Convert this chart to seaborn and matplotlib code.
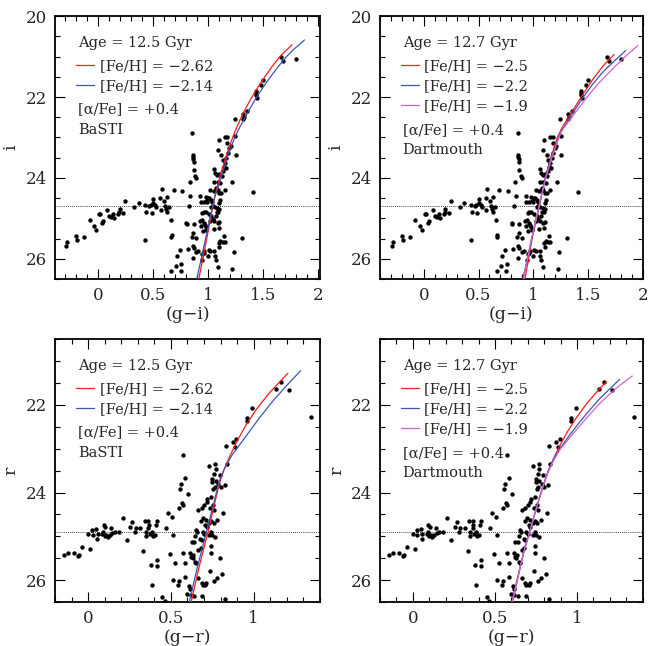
import matplotlib
matplotlib.use("Agg")
import matplotlib.pyplot as plt
import matplotlib.ticker as mticker
import seaborn as sns
import pandas as pd

# observed CMD points, (g-i, i)
gi_hb = [(-0.291, 25.69), (-0.279, 25.58), (-0.197, 25.44), (-0.191, 25.54), (-0.124, 25.47),
         (-0.076, 25.04), (-0.036, 25.19), (-0.015, 25.29), (0.009, 24.90), (0.018, 24.88),
         (0.039, 25.11), (0.051, 25.06), (0.082, 24.79), (0.100, 24.95), (0.121, 24.96),
         (0.136, 24.90), (0.145, 25.00), (0.182, 24.90), (0.191, 24.84), (0.197, 24.77),
         (0.227, 24.87), (0.251, 24.57), (0.333, 24.72), (0.370, 24.61), (0.430, 25.54),
         (0.433, 24.67), (0.442, 24.83), (0.464, 24.69), (0.479, 24.67), (0.488, 24.87),
         (0.503, 24.62), (0.506, 24.52), (0.521, 24.67), (0.530, 24.72), (0.570, 24.80),
         (0.564, 24.49), (0.579, 24.27), (0.612, 24.69), (0.606, 24.56), (0.630, 24.46),
         (0.633, 24.83), (0.624, 24.77), (0.648, 24.72), (0.664, 25.05), (0.673, 25.40),
         (0.667, 25.45), (0.688, 24.30), (0.718, 25.92), (0.667, 26.30), (0.709, 26.17),
         (0.752, 26.30), (0.745, 25.78)]
gi_lower = [(0.767, 24.32), (0.834, 24.11), (0.840, 24.455), (0.825, 24.69), (0.806, 25.12),
            (0.809, 25.15), (0.867, 25.36), (0.855, 25.46), (0.897, 25.48), (0.873, 25.14),
            (0.818, 25.75), (0.864, 25.69), (0.870, 25.73), (0.864, 25.98), (0.894, 25.84),
            (0.912, 25.81), (0.758, 26.12), (0.931, 24.455), (0.937, 24.59), (0.964, 24.59),
            (0.979, 24.47), (0.985, 24.57), (0.997, 24.59), (1.006, 24.50), (0.949, 24.87),
            (0.961, 24.84), (0.979, 24.83), (0.925, 25.07), (0.946, 25.03), (0.934, 25.20),
            (0.964, 25.11), (0.970, 25.17), (0.979, 25.21), (0.985, 25.28), (0.955, 25.32),
            (0.949, 25.87), (0.964, 25.85), (0.943, 26.02), (0.967, 25.81), (1.009, 25.79),
            (1.000, 25.93), (1.061, 25.93), (1.070, 26.02), (1.024, 25.81), (1.058, 25.81),
            (1.091, 26.20), (1.106, 25.71), (1.100, 25.61), (1.115, 25.56), (1.137, 25.58),
            (1.155, 25.59), (1.146, 25.44), (1.237, 25.84), (1.224, 26.26), (1.312, 25.49),
            (1.021, 24.29), (1.015, 24.50), (1.030, 24.54), (1.040, 24.60), (1.030, 24.73),
            (1.046, 24.70), (1.064, 24.72), (1.085, 24.74), (1.106, 24.76), (1.106, 24.63),
            (1.112, 24.55), (1.082, 24.83), (1.097, 24.84), (1.009, 24.89), (1.030, 24.93),
            (1.070, 24.95), (1.046, 25.01), (1.058, 25.07), (1.091, 25.11), (1.106, 25.10),
            (1.021, 25.07), (1.052, 25.26), (1.100, 25.24), (1.058, 24.09), (1.076, 24.25),
            (1.091, 24.09), (1.112, 24.13), (1.091, 24.29), (1.106, 24.36), (1.124, 24.37),
            (1.070, 24.29), (1.055, 24.33), (1.152, 24.29), (1.221, 24.11), (1.409, 24.34)]
gi_upper = [(0.858, 22.88), (0.864, 23.44), (0.864, 23.49), (0.867, 23.54), (0.870, 23.61),
            (0.873, 23.80), (0.885, 23.96), (0.894, 23.99), (1.058, 23.78), (1.067, 23.88),
            (1.100, 23.06), (1.155, 22.98), (1.176, 22.98), (1.091, 23.30), (1.121, 23.43),
            (1.137, 23.55), (1.167, 23.51), (1.182, 23.39), (1.176, 23.14), (1.197, 23.26),
            (1.212, 23.22), (1.152, 23.63), (1.143, 23.72), (1.161, 23.76), (1.137, 23.84),
            (1.130, 23.96), (1.106, 23.90), (1.085, 23.93), (1.249, 22.97), (1.258, 23.44),
            (1.246, 22.55), (1.318, 22.43), (1.325, 22.50), (1.318, 22.55), (1.358, 22.34),
            (1.440, 21.85), (1.440, 21.95), (1.446, 22.03), (1.434, 21.91), (1.485, 21.70),
            (1.500, 21.58), (1.670, 21.00), (1.688, 21.11), (1.803, 21.07)]

# observed CMD points, (g-r, r)
gr_hb = [(-0.147, 25.42), (-0.122, 25.38), (-0.086, 25.39), (-0.062, 25.45), (-0.056, 25.42),
         (-0.036, 25.25), (0.010, 25.30), (-0.002, 24.94), (0.024, 24.85), (0.028, 24.97),
         (0.050, 24.83), (0.058, 24.95), (0.056, 25.07), (0.084, 24.95), (0.094, 24.74),
         (0.104, 24.78), (0.092, 24.91), (0.100, 25.00), (0.110, 24.97), (0.118, 25.02),
         (0.130, 24.97), (0.138, 24.81), (0.144, 24.93), (0.160, 24.91), (0.184, 24.89),
         (0.210, 24.59), (0.234, 25.09), (0.254, 24.78), (0.268, 24.68), (0.284, 24.89),
         (0.290, 24.80), (0.316, 24.80), (0.334, 25.34), (0.344, 24.66), (0.348, 24.89),
         (0.348, 25.00), (0.364, 24.65), (0.368, 24.74), (0.364, 24.81), (0.374, 24.94),
         (0.384, 24.89), (0.390, 25.00), (0.401, 24.97), (0.411, 24.74), (0.417, 24.65),
         (0.379, 25.66), (0.417, 25.53), (0.417, 25.68), (0.383, 26.11), (0.449, 26.38),
         (0.465, 26.47), (0.469, 24.80), (0.481, 24.47), (0.495, 25.40), (0.509, 24.55),
         (0.515, 24.97), (0.525, 25.61), (0.515, 26.00), (0.545, 26.11), (0.549, 24.36),
         (0.549, 26.01)]
gr_lower = [(0.555, 23.91), (0.561, 23.80), (0.585, 23.68), (0.565, 24.25), (0.571, 24.29),
            (0.601, 24.04), (0.575, 25.38), (0.585, 25.61), (0.665, 24.40), (0.651, 24.85),
            (0.659, 24.91), (0.645, 25.00), (0.625, 25.12), (0.639, 25.12), (0.675, 25.06),
            (0.685, 25.08), (0.679, 25.27), (0.665, 25.32), (0.615, 25.37), (0.621, 25.48),
            (0.631, 25.49), (0.645, 25.58), (0.651, 25.61), (0.635, 25.43), (0.585, 25.92),
            (0.611, 26.14), (0.615, 26.21), (0.599, 26.32), (0.619, 26.34), (0.641, 26.36),
            (0.665, 25.95), (0.691, 26.11), (0.685, 26.06), (0.705, 26.10), (0.711, 26.06),
            (0.689, 26.36), (0.735, 25.80), (0.761, 26.02), (0.781, 25.95), (0.811, 25.86),
            (0.799, 25.49), (0.745, 25.38), (0.741, 25.21), (0.769, 25.02), (0.751, 24.97),
            (0.731, 24.97), (0.745, 24.89), (0.681, 24.66), (0.695, 24.59), (0.711, 24.63),
            (0.705, 24.74), (0.715, 24.78), (0.731, 24.70), (0.745, 24.66), (0.759, 24.70),
            (0.691, 24.89), (0.701, 24.94), (0.685, 24.36), (0.699, 24.29), (0.715, 24.21),
            (0.735, 24.35), (0.761, 24.40), (0.755, 24.29), (0.781, 24.63), (0.815, 24.47),
            (0.719, 24.14), (0.741, 24.10), (0.749, 23.76), (0.755, 23.91), (0.765, 23.87),
            (0.801, 23.87), (0.825, 23.83), (0.785, 23.80), (0.771, 23.74), (0.751, 23.70),
            (0.761, 23.57), (0.795, 23.61), (0.771, 23.46), (0.829, 26.44)]
gr_upper = [(0.575, 23.14), (0.731, 23.40), (0.769, 23.34), (0.832, 22.93), (0.836, 23.36),
            (0.872, 22.84), (0.886, 22.95), (0.896, 22.78), (0.962, 22.29), (0.962, 22.36),
            (0.992, 22.06), (1.136, 21.63), (1.162, 21.48), (1.212, 21.65), (1.347, 22.27)]

# isochrones, BaSTI 12.5 Gyr, (g-i, i)
basti_gi_mag_r = [26.5, 25.5, 24.5, 24.0, 23.5, 23.0, 22.75, 22.5, 22.25, 22.0, 21.75, 21.5,
                  21.25, 21.0, 20.85, 20.71]
basti_gi_red = [0.918, 0.99, 1.06, 1.106, 1.161, 1.226, 1.263, 1.304, 1.350, 1.401, 1.457, 1.519,
                1.583, 1.655, 1.71, 1.767]
basti_gi_mag_b = [26.5, 25.5, 24.5, 24.0, 23.5, 23.0, 22.75, 22.5, 22.25, 22.0, 21.75, 21.5,
                  21.25, 21.0, 20.8, 20.59]
basti_gi_blue = [0.900, 0.98, 1.06, 1.12, 1.175, 1.245, 1.29, 1.34, 1.39, 1.445, 1.505, 1.57,
                 1.64, 1.715, 1.79, 1.879]

# Dartmouth 12.7 Gyr, (g-i, i)
dart_gi_mag_r = [26.5, 25.5, 24.5, 24.0, 23.5, 23.0, 22.77, 22.40, 21.99, 21.56, 21.23, 20.95]
dart_gi_red = [0.924, 0.99, 1.07, 1.11, 1.16, 1.22, 1.26, 1.345, 1.44, 1.545, 1.638, 1.738]
dart_gi_mag_b = [26.5, 25.5, 24.5, 24.0, 23.5, 23.0, 22.81, 22.42, 22.03, 21.66, 21.37, 21.13,
                 20.85]
dart_gi_blue = [0.905, 0.985, 1.07, 1.11, 1.165, 1.23, 1.265, 1.355, 1.45, 1.549, 1.64, 1.732,
                1.845]
dart_gi_mag_m = [26.5, 25.5, 24.5, 24.0, 23.5, 23.0, 22.83, 22.56, 22.23, 21.91, 21.62, 21.37,
                 21.04, 20.73]
dart_gi_mag_col = [0.91, 0.985, 1.07, 1.115, 1.17, 1.235, 1.262, 1.335, 1.427, 1.518, 1.61,
                   1.701, 1.823, 1.954]

# BaSTI, (g-r, r)
basti_gr_mag_r = [26.5, 25.7, 24.89, 24.15, 23.8, 23.5, 23.2, 22.85, 22.44, 22.10, 21.72, 21.28]
basti_gr_red = [0.622, 0.67, 0.725, 0.77, 0.792, 0.818, 0.852, 0.896, 0.956, 1.016, 1.096, 1.206]
basti_gr_mag_b = [26.5, 25.7, 24.89, 24.15, 23.8, 23.5, 23.15, 22.70, 22.29, 21.91, 21.57, 21.22]
basti_gr_blue = [0.611, 0.66, 0.715, 0.765, 0.787, 0.818, 0.868, 0.956, 1.036, 1.116, 1.196,
                 1.283]

# Dartmouth, (g-r, r)
dart_gr_mag_r = [26.5, 25.41, 24.35, 23.9, 23.5, 23.2, 22.93, 22.59, 22.29, 21.98, 21.72, 21.47]
dart_gr_red = [0.607, 0.672, 0.753, 0.79, 0.825, 0.86, 0.895, 0.945, 0.996, 1.057, 1.117, 1.178]
dart_gr_mag_b = [26.5, 25.41, 24.35, 23.9, 23.55, 23.25, 23.0, 22.74, 22.44, 22.14, 21.87,
                 21.65, 21.42]
dart_gr_blue = [0.602, 0.672, 0.753, 0.788, 0.82, 0.855, 0.895, 0.945, 1.006, 1.072, 1.135,
                1.195, 1.259]
dart_gr_mag_m = [26.5, 25.41, 24.35, 23.9, 23.55, 23.25, 23.0, 22.82, 22.55, 22.29, 22.02,
                 21.80, 21.57, 21.34]
dart_gr_mag_col = [0.605, 0.672, 0.753, 0.789, 0.822, 0.86, 0.9, 0.94, 1.0, 1.06, 1.125, 1.185,
                   1.255, 1.336]

RED, BLUE, MAG = "#ff1a1a", "#3a55b4", "#cc66cc"

gi_df = pd.DataFrame(gi_hb + gi_lower + gi_upper, columns=["col", "mag"])
gr_df = pd.DataFrame(gr_hb + gr_lower + gr_upper, columns=["col", "mag"])

sns.set_theme(style="ticks")
plt.rcParams["font.family"] = ["DejaVu Serif"]

fig = plt.figure(figsize=(6.6, 6.46), dpi=100)

panels = [
    # axes box, points, isochrones, xlim, ylim, x label, y label, age, model set, dotted level
    ([0.0833, 0.568, 0.4015, 0.407], gi_df,
     [(basti_gi_red, basti_gi_mag_r, RED, "\u22122.62"), (basti_gi_blue, basti_gi_mag_b, BLUE, "\u22122.14")],
     (-0.39, 2.02), (26.5, 20), "(g\u2212i)", "i", "12.5", "BaSTI", 24.7),
    ([0.5758, 0.568, 0.398, 0.407], gi_df,
     [(dart_gi_red, dart_gi_mag_r, RED, "\u22122.5"), (dart_gi_blue, dart_gi_mag_b, BLUE, "\u22122.2"),
      (dart_gi_mag_col, dart_gi_mag_m, MAG, "\u22121.9")],
     (-0.4, 2.0), (26.5, 20), "(g\u2212i)", "i", "12.7", "Dartmouth", 24.7),
    ([0.0833, 0.068, 0.4015, 0.407], gr_df,
     [(basti_gr_red, basti_gr_mag_r, RED, "\u22122.62"), (basti_gr_blue, basti_gr_mag_b, BLUE, "\u22122.14")],
     (-0.2, 1.4), (26.5, 20.5), "(g\u2212r)", "r", "12.5", "BaSTI", 24.9),
    ([0.5758, 0.068, 0.398, 0.407], gr_df,
     [(dart_gr_red, dart_gr_mag_r, RED, "\u22122.5"), (dart_gr_blue, dart_gr_mag_b, BLUE, "\u22122.2"),
      (dart_gr_mag_col, dart_gr_mag_m, MAG, "\u22121.9")],
     (-0.2, 1.4), (26.5, 20.5), "(g\u2212r)", "r", "12.7", "Dartmouth", 24.9),
]

for pos, df, curves, xlim, ylim, xlab, ylab, age, model, dot in panels:
    ax = fig.add_axes(pos)
    sns.scatterplot(data=df, x="col", y="mag", color="black", s=10, linewidth=0,
                    ax=ax, legend=False, zorder=3)
    for cx, cy, c, feh in curves:
        sns.lineplot(x=cx, y=cy, sort=False, estimator=None, color=c, lw=0.9,
                     ax=ax, label="[Fe/H] = " + feh, zorder=4)
    ax.axhline(dot, color="black", lw=0.6, ls=(0, (1, 1.5)), zorder=2)
    ax.set_xlim(*xlim)
    ax.set_ylim(*ylim)

    ax.xaxis.set_major_locator(mticker.MultipleLocator(0.5))
    ax.xaxis.set_minor_locator(mticker.MultipleLocator(0.1))
    ax.xaxis.set_major_formatter(mticker.FormatStrFormatter("%g"))
    ax.yaxis.set_major_locator(mticker.MultipleLocator(2))
    ax.yaxis.set_minor_locator(mticker.MultipleLocator(0.5))
    ax.tick_params(which="both", direction="in", top=True, right=True, color="black",
                   labelsize=12, width=0.8)
    ax.tick_params(which="major", length=7, pad=6)
    ax.tick_params(which="minor", length=3.5)
    for s in ax.spines.values():
        s.set_linewidth(1.3)
        s.set_color("black")
    ax.set_xlabel(xlab, fontsize=12.5, labelpad=1)
    ax.set_ylabel(ylab, fontsize=12.5, labelpad=4)

    ax.text(0.086, 0.898, "Age = " + age + " Gyr", transform=ax.transAxes,
            fontsize=10.5, va="center", ha="left")
    ax.legend(loc="upper left", bbox_to_anchor=(0.08, 0.838), frameon=False,
              fontsize=10.5, handlelength=1.25, handletextpad=0.35,
              labelspacing=0.42, borderpad=0, borderaxespad=0)
    three = len(curves) == 3
    ax.text(0.086, 0.568 if three else 0.645, "[\u03b1/Fe] = +0.4", transform=ax.transAxes,
            fontsize=10.5, va="center", ha="left")
    ax.text(0.086, 0.492 if three else 0.567, model, transform=ax.transAxes,
            fontsize=10.5, va="center", ha="left")

fig.savefig("out.png", dpi=100)
